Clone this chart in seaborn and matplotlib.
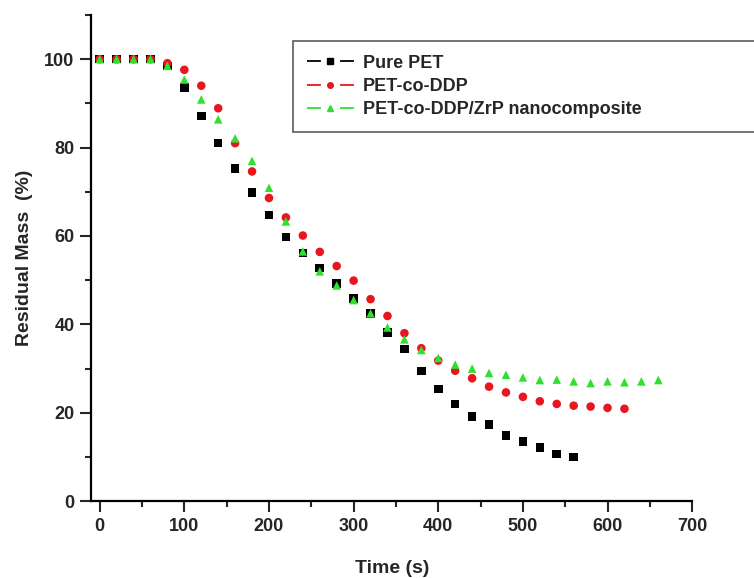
import numpy as np
import pandas as pd
import matplotlib
matplotlib.use("Agg")
import matplotlib.pyplot as plt
from matplotlib.lines import Line2D
from matplotlib.ticker import MultipleLocator
import seaborn as sns

# time points (s), one reading every 20 s
time_pet = list(range(0, 561, 20))
time_ddp = list(range(0, 621, 20))
time_zrp = list(range(0, 661, 20))

# residual mass (%)
mass_pet = [100, 100, 100, 100, 98.5, 93.6, 87.2, 81.0, 75.3, 69.8,
            64.7, 59.8, 56.1, 52.8, 49.3, 45.8, 42.4, 38.1, 34.4, 29.4,
            25.4, 22.0, 19.2, 17.3, 14.9, 13.5, 12.1, 10.7, 10.0]
mass_ddp = [100, 100, 100, 100, 99.1, 97.6, 94.0, 88.9, 81.0, 74.6,
            68.6, 64.2, 60.1, 56.4, 53.2, 49.9, 45.7, 41.9, 38.0, 34.6,
            31.8, 29.5, 27.8, 25.9, 24.6, 23.6, 22.6, 22.0, 21.6, 21.4,
            21.1, 20.9]
mass_zrp = [100, 100, 100, 100, 98.5, 95.4, 90.9, 86.4, 82.1, 77.0,
            70.9, 63.3, 56.5, 52.0, 48.8, 45.5, 42.5, 39.3, 36.6, 34.2,
            32.4, 30.9, 30.0, 29.0, 28.6, 28.0, 27.4, 27.5, 27.1, 26.7,
            27.1, 26.9, 27.1, 27.4]

labels = ["Pure PET", "PET-co-DDP", "PET-co-DDP/ZrP nanocomposite"]
colors = ["#000000", "#e8161e", "#2fe02f"]
markers = ["s", "o", "^"]

df = pd.concat([
    pd.DataFrame({"Time": time_pet, "Mass": mass_pet, "Sample": labels[0]}),
    pd.DataFrame({"Time": time_ddp, "Mass": mass_ddp, "Sample": labels[1]}),
    pd.DataFrame({"Time": time_zrp, "Mass": mass_zrp, "Sample": labels[2]}),
])

sns.set_style("white")
plt.rcParams["font.family"] = ["Liberation Sans", "DejaVu Sans"]
plt.rcParams["font.weight"] = "bold"

fig = plt.figure(figsize=(7.54, 5.78), dpi=100)
ax = fig.add_axes([0.121, 0.133, 0.797, 0.841])

sns.scatterplot(data=df, x="Time", y="Mass", hue="Sample", style="Sample",
                palette=dict(zip(labels, colors)),
                markers=dict(zip(labels, markers)),
                s=38, linewidth=0, legend=False, ax=ax)

ax.set_xlim(-10, 700)
ax.set_ylim(0, 110)
ax.xaxis.set_major_locator(MultipleLocator(100))
ax.xaxis.set_minor_locator(MultipleLocator(50))
ax.yaxis.set_major_locator(MultipleLocator(20))
ax.yaxis.set_minor_locator(MultipleLocator(10))
ax.tick_params(which="major", direction="out", length=8, width=1.5,
               labelsize=13, bottom=True, left=True, pad=4)
ax.tick_params(which="minor", direction="out", length=4, width=1.5,
               bottom=True, left=True)
for lab in ax.get_xticklabels() + ax.get_yticklabels():
    lab.set_fontweight("bold")

sns.despine(ax=ax)
for side in ["left", "bottom"]:
    ax.spines[side].set_linewidth(1.6)
    ax.spines[side].set_color("black")

ax.set_xlabel("Time (s)", fontsize=14, fontweight="bold", labelpad=18)
ax.set_ylabel("Residual Mass  (%)", fontsize=14, fontweight="bold", labelpad=8)

# legend handles: short line, marker, short line (broken line look)
lw = 1.3
handles = [Line2D([], [], color=c, marker=m, markersize=4, linewidth=lw,
                  dashes=(10 / lw, 13.8 / lw), label=l)
           for c, m, l in zip(colors, markers, labels)]
leg = fig.legend(handles=handles, loc="upper left",
                 bbox_to_anchor=(0.389, 0.929, 0.63, 0.0), mode="expand",
                 borderaxespad=0, fontsize=13, handlelength=2.6,
                 handletextpad=0.5, labelspacing=0.35, borderpad=0.75,
                 fancybox=False, frameon=True, edgecolor="#333333")
leg.get_frame().set_linewidth(1.2)
for t in leg.get_texts():
    t.set_fontweight("bold")

fig.savefig("out.png", dpi=100)
